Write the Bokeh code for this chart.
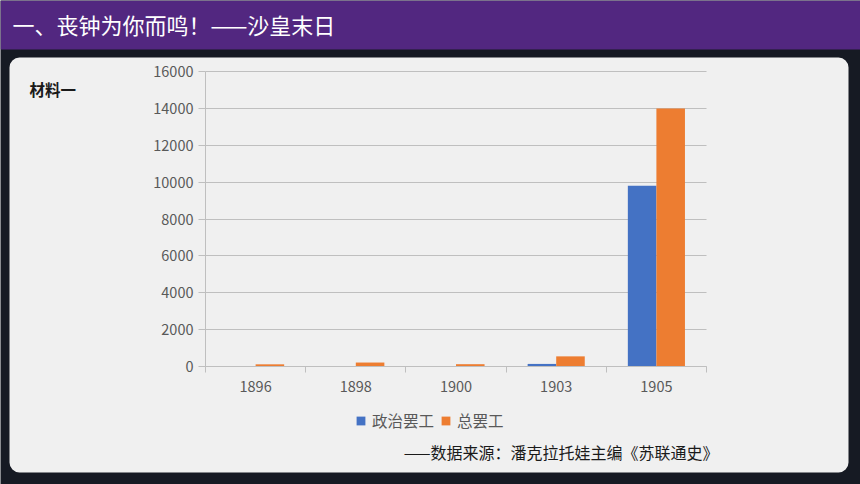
from bokeh.plotting import figure
from bokeh.models import ColumnDataSource, BoxAnnotation, Label, FixedTicker, Range1d
from bokeh.transform import dodge
from bokeh.embed import file_html
from bokeh.resources import INLINE

# ---- data ----
years = ["1896", "1898", "1900", "1903", "1905"]
political = [20, 10, 20, 140, 9800]
total = [118, 215, 125, 550, 14000]
y_ticks = [0, 2000, 4000, 6000, 8000, 10000, 12000, 14000, 16000]
series_names = ["政治罢工", "总罢工"]
title_text = "一、丧钟为你而鸣！——沙皇末日"
material_text = "材料一"
source_text = "——数据来源：潘克拉托娃主编《苏联通史》"

CJK = "Noto Sans CJK SC"
BLUE = "#4472c4"
ORANGE = "#ed7d31"
GRAY_TXT = "#595959"
AXIS_GRAY = "#bfbfbf"
DARK = "#161a23"

W, H = 860, 484
# chart area inside the canvas (pixels)
PL, PR, PT, PB = 205, 706, 71, 366

n = len(years)
ymax = y_ticks[-1]
ux = (PR - PL) / n          # px per category
uy = (PB - PT) / ymax       # px per unit
x_range = Range1d(-PL / ux, n + (W - PR) / ux)
y_range = Range1d(-(H - PB) / uy, ymax + PT / uy)

centers = [i + 0.5 for i in range(n)]
src = ColumnDataSource(dict(x=centers, year=years, political=political, total=total))

p = figure(width=W, height=H, output_backend="svg", toolbar_location=None, title=None,
           x_range=x_range, y_range=y_range,
           min_border=0, min_border_left=0, min_border_right=0, min_border_top=0, min_border_bottom=0,
           border_fill_color=DARK, background_fill_color=DARK,
           outline_line_color=None)

# decorations (page header and panel)
cu = dict(left_units="canvas", right_units="canvas", top_units="canvas", bottom_units="canvas")
p.add_layout(BoxAnnotation(left=0, right=W, top=0, bottom=49, fill_color="#522780", fill_alpha=1,
                           line_color=None, level="image", **cu))
p.add_layout(BoxAnnotation(left=9, right=848, top=57, bottom=472, fill_color="#f0f0f0", fill_alpha=1,
                           line_color=None, border_radius=10, level="image", **cu))

# bars
p.vbar(x=dodge("x", -0.1425), top="political", width=0.285, source=src,
       fill_color=BLUE, line_color=None, legend_label=series_names[0])
p.vbar(x=dodge("x", 0.1425), top="total", width=0.285, source=src,
       fill_color=ORANGE, line_color=None, legend_label=series_names[1])

# x axis (fixed at y = 0)
xa = p.xaxis[0]
xa.fixed_location = 0
xa.bounds = (0, n)
xa.ticker = FixedTicker(ticks=centers, minor_ticks=list(range(n + 1)))
xa.major_label_overrides = {c: y for c, y in zip(centers, years)}
xa.major_tick_line_color = None
xa.major_tick_out = 0
xa.major_tick_in = 0
xa.minor_tick_line_color = AXIS_GRAY
xa.minor_tick_out = 6
xa.minor_tick_in = 0
xa.axis_line_color = AXIS_GRAY
xa.major_label_text_font = CJK
xa.major_label_text_font_size = "14.5px"
xa.major_label_text_color = GRAY_TXT
xa.major_label_standoff = 8

# y axis (fixed at x = 0)
ya = p.yaxis[0]
ya.fixed_location = 0
ya.bounds = (0, ymax)
ya.ticker = FixedTicker(ticks=y_ticks)
ya.minor_tick_line_color = None
ya.major_tick_line_color = AXIS_GRAY
ya.major_tick_out = 7
ya.major_tick_in = 0
ya.axis_line_color = AXIS_GRAY
ya.major_label_text_font = CJK
ya.major_label_text_font_size = "14.5px"
ya.major_label_text_color = GRAY_TXT
ya.major_label_standoff = 5

p.xgrid.grid_line_color = None
p.ygrid.ticker = FixedTicker(ticks=y_ticks)
try:
    p.ygrid.cross_bounds = (0, n)
    p.ygrid.bounds = (0, ymax)
    p.ygrid.grid_line_color = AXIS_GRAY
except Exception:
    p.ygrid.grid_line_color = None
    p.segment(x0=[0] * len(y_ticks), x1=[n] * len(y_ticks), y0=y_ticks, y1=y_ticks,
              line_color=AXIS_GRAY, line_width=1, level="underlay")

# legend
lg = p.legend[0]
lg.location = (355, 53)
lg.orientation = "horizontal"
lg.padding = 0
lg.margin = 0
lg.spacing = 6
lg.label_standoff = 6
lg.glyph_width = 11
lg.glyph_height = 11
lg.label_height = 11
lg.label_text_font = CJK
lg.label_text_font_size = "15.5px"
lg.label_text_color = GRAY_TXT
lg.border_line_color = None
lg.background_fill_alpha = 0

# texts
p.add_layout(Label(x=12, y=23, x_units="canvas", y_units="canvas", text=title_text,
                   text_font=CJK, text_font_size="22px", text_color="white",
                   text_baseline="middle", text_align="left"))
p.add_layout(Label(x=29, y=88, x_units="canvas", y_units="canvas", text=material_text,
                   text_font=CJK, text_font_size="15.5px", text_font_style="bold", text_color="#1a1a1a",
                   text_baseline="middle", text_align="left"))
p.add_layout(Label(x=718, y=451, x_units="canvas", y_units="canvas", text=source_text,
                   text_font=CJK, text_font_size="16px", text_color="#1a1a1a",
                   text_baseline="middle", text_align="right"))

open("out.html", "w").write(file_html(p, INLINE))
